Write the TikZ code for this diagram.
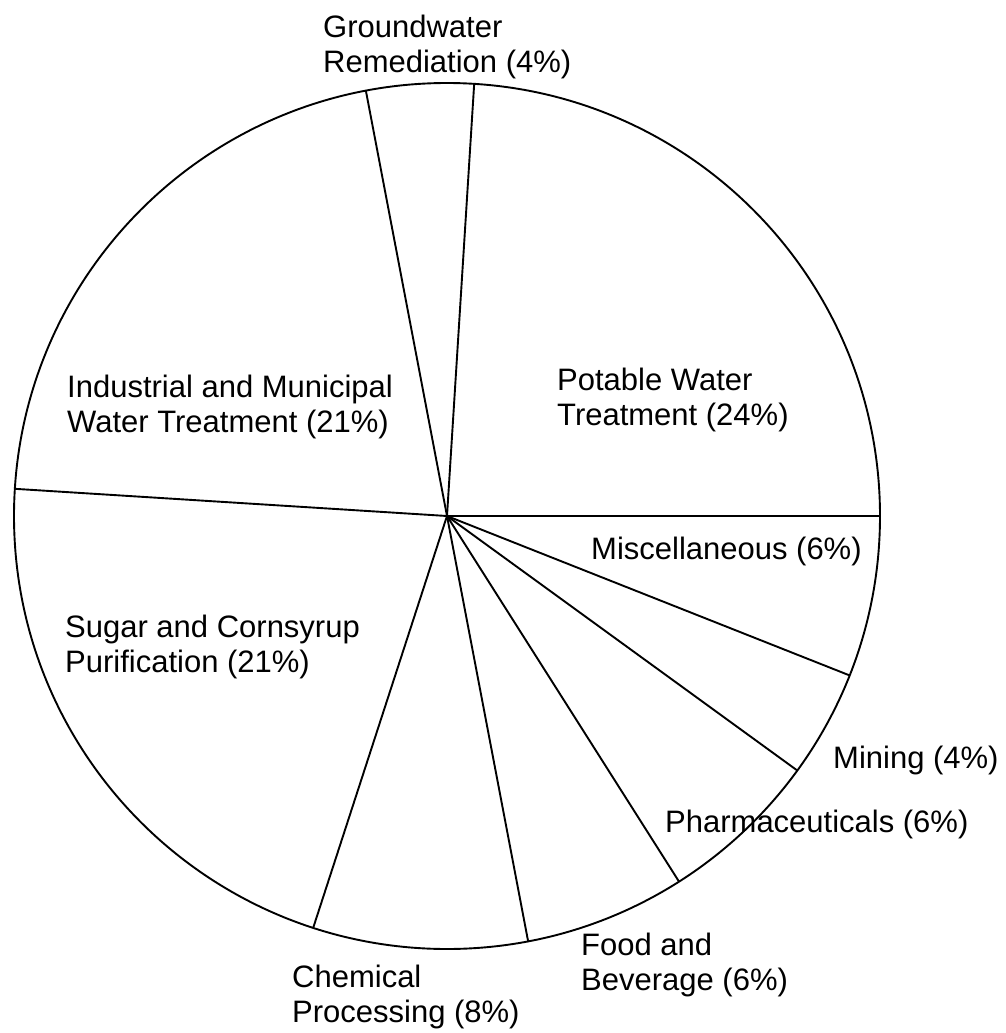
\documentclass[tikz,border=0pt]{standalone}
\usepackage{fontspec}
\setmainfont{Liberation Sans}
\usetikzlibrary{calc}

\tikzset{
  slice/.style={black, line width=1.9pt},
  lbl/.style={anchor=base west, align=left, inner sep=0pt, font=\fontsize{31}{35}\selectfont}
}

\begin{document}
\begin{tikzpicture}[x=1pt,y=-1pt]
\useasboundingbox (0,0) rectangle (1005,1033);

\coordinate (O) at (447,516);
\draw[slice] (O) circle (433pt);

% slice borders (percent -> degrees, counterclockwise from 3 o'clock)
\foreach \a in {0,86.4,100.8,176.4,252,280.8,302.4,324,338.4}
  \draw[slice] (O) -- ++(\a:433pt);

% labels, placed at the baseline of their last line
\node[lbl] (ground) at (323,73) {Groundwater\\Remediation (4\%)};
\node[lbl] (potable) at (557,425) {Potable Water\\Treatment (24\%)};
\node[lbl] (indus) at (67,432) {Industrial and Municipal\\Water Treatment (21\%)};
\node[lbl] (misc) at (591,559) {Miscellaneous (6\%)};
\node[lbl] (sugar) at (65,672) {Sugar and Cornsyrup\\Purification (21\%)};
\node[lbl] (mining) at (833,768) {Mining (4\%)};
\node[lbl] (pharma) at (665,832) {Pharmaceuticals (6\%)};
\node[lbl] (food) at (581,990) {Food and\\Beverage (6\%)};
\node[lbl] (chem) at (292,1022) {Chemical\\Processing (8\%)};

\end{tikzpicture}
\end{document}
